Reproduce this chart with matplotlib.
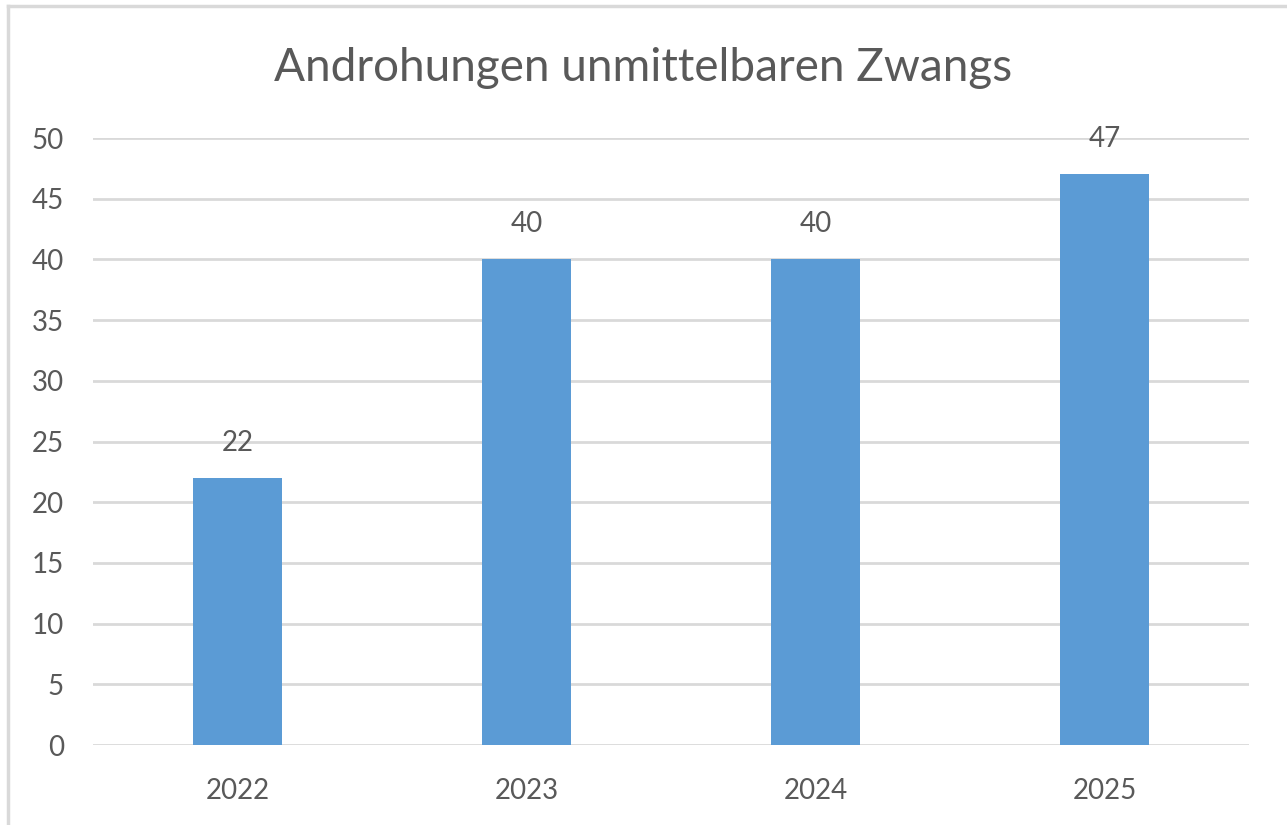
import matplotlib.pyplot as plt
from matplotlib.lines import Line2D

years = ['2022', '2023', '2024', '2025']
counts = [22, 40, 40, 47]

plt.rcParams['font.family'] = ['Lato', 'DejaVu Sans']
text_grey = '#595959'

fig = plt.figure(figsize=(12.87, 8.25), dpi=100)
ax = fig.add_axes([93 / 1287, 1 - 745 / 825, (1249 - 93) / 1287, (745 - 138) / 825])

x = range(len(years))
bars = ax.bar(x, counts, width=0.31, color='#5B9BD5', zorder=3)

for b, v in zip(bars, counts):
    ax.annotate(str(v), (b.get_x() + b.get_width() / 2, v), xytext=(0, 16),
                textcoords='offset points', ha='center', va='bottom',
                fontsize=20, color=text_grey)

ax.set_xlim(-0.5, 3.5)
ax.set_ylim(0, 50)
ax.set_yticks(range(0, 51, 5))
ax.set_xticks(list(x))
ax.set_xticklabels(years)
ax.tick_params(axis='both', length=0, labelsize=20, labelcolor=text_grey)
ax.tick_params(axis='y', pad=21)
ax.tick_params(axis='x', pad=24)
ax.grid(axis='y', color='#D9D9D9', linewidth=2, zorder=0)
for s in ax.spines.values():
    s.set_visible(False)

fig.text(0.5, 1 - 68 / 825, 'Androhungen unmittelbaren Zwangs', ha='center', va='center',
         fontsize=33, color=text_grey)

# chart border (only left and top visible in the crop)
fig.add_artist(Line2D([8 / 1287, 8 / 1287], [0, 1 - 6 / 825], color='#D9D9D9', linewidth=2.5,
                      transform=fig.transFigure))
fig.add_artist(Line2D([8 / 1287, 1], [1 - 6 / 825, 1 - 6 / 825], color='#D9D9D9', linewidth=2.5,
                      transform=fig.transFigure))

fig.savefig('out.png', dpi=100)
